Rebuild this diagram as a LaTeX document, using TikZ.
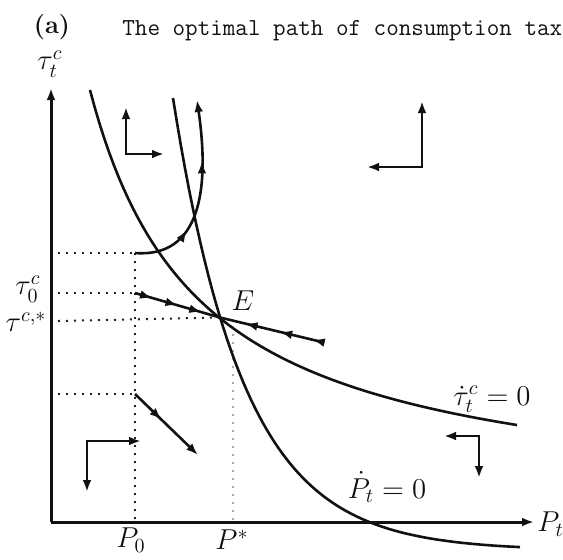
\documentclass[tikz,border=0pt]{standalone}
\usepackage{xcolor}
\definecolor{Ink}{HTML}{111111}
\definecolor{Guide}{HTML}{222222}
\definecolor{GuideLight}{HTML}{A8A8A8}
\usepackage{tikz}
\usetikzlibrary{arrows.meta,decorations.markings}
\newcommand\flowtip{\arrow{Latex[length=6pt,width=4.4pt]}}
\tikzset{
  axis/.style={-{Latex[length=6pt,width=4.4pt]},line width=1.5pt,draw=Ink},
  curve/.style={line width=1.3pt,draw=Ink},
  traj/.style={line width=1.3pt,draw=Ink},
  turn/.style={{Latex[length=6pt,width=4.4pt]}-{Latex[length=6pt,width=4.4pt]},
    line width=1.3pt,draw=Ink},
  guide/.style={line width=1pt,draw=Guide,dash pattern=on 1pt off 3pt},
  guidelight/.style={guide,draw=GuideLight},
  tips/.style={postaction={decorate},decoration={markings,#1}},
  lbl/.style={font=\fontsize{14}{16}\selectfont,text=Ink,inner sep=0pt}
}

\begin{document}
\begin{tikzpicture}[x=0.5pt,y=-0.5pt]
\useasboundingbox (0,0) rectangle (563,559);
% title
\node[font=\fontsize{12.7}{15}\selectfont\bfseries,text=Ink,inner sep=0pt] (panel) at (52,27) {(a)};
\node[anchor=base west,font=\fontsize{12.2}{14}\selectfont\ttfamily,text=Ink,inner sep=0pt]
  (title) at (122,35) {The optimal path of consumption tax};
% axes
\coordinate (O) at (51,522);
\coordinate (ytop) at (51,88);
\coordinate (xend) at (534,522);
\draw[axis] (O)--(ytop);
\draw[axis] (O)--(xend);
\node[lbl] (ylab) at (50,64) {$\tau_t^c$};
\node[lbl,anchor=west] (xlab) at (537,524) {$P_t$};
% steady state and guides
\coordinate (E) at (220,317.5);
\coordinate (p0) at (135,522);
\coordinate (ps) at (233,522);
\coordinate (hi) at (135,253);
\coordinate (t0) at (135,293);
\coordinate (lo) at (135,394);
\draw[guide] (58,253)--(hi);
\draw[guide] (58,293)--(t0);
\draw[guide] (58,321)--(E);
\draw[guide] (58,394)--(lo);
\draw[guide] (hi)--(p0);
\draw[guidelight] (233,326)--(ps);
\node[lbl] (tau0) at (28,289) {$\tau_0^c$};
\node[lbl] (taus) at (26,322) {$\tau^{c,*}$};
\node[lbl] (elab) at (243,301) {$E$};
\node[lbl] (P0) at (131,540) {$P_0$};
\node[lbl] (Ps) at (232,540) {$P^{*}$};
% loci
\draw[curve] plot[domain=90:517,samples=90] (\x,{511.3-463.4/((\x+20)/100)});
\draw[curve] plot[domain=173:520,samples=90] (\x,{550.5-452.5*exp(-0.01408*(\x-173))});
\node[lbl] (taudot) at (492,399) {$\dot\tau_t^c=0$};
\node[lbl] (Pdot) at (387,487) {$\dot P_t=0$};
% saddle path
\draw[traj,tips={mark=at position 0.2 with {\flowtip},mark=at position 0.5 with {\flowtip},
  mark=at position 0.78 with {\flowtip}}] (t0)--(E);
\coordinate (arm) at (322,342);
\draw[traj,tips={mark=at position 0.09 with {\flowtip},mark=at position 0.41 with {\flowtip},
  mark=at position 0.75 with {\flowtip}}] (arm)--(E);
% diverging paths
\coordinate (hiend) at (197,100);
\draw[traj,-{Latex[length=6pt,width=4.4pt]},tips={mark=at position 0.31 with {\flowtip},
  mark=at position 0.68 with {\flowtip}}]
  (hi) .. controls (200,258) and (210,190) .. (hiend);
\coordinate (loend) at (198,455);
\draw[traj,-{Latex[length=6pt,width=4.4pt]},tips={mark=at position 0.42 with {\flowtip}}] (lo)--(loend);
% directions of motion
\coordinate (c1) at (126,154);
\coordinate (c2) at (422,167);
\coordinate (c3) at (87,441);
\coordinate (c4) at (479,436);
\draw[turn] (126,107)--(c1)--(164,154);
\draw[turn] (422,101)--(c2)--(367,167);
\draw[turn] (141,441)--(c3)--(87,492);
\draw[turn] (444,436)--(c4)--(479,478);
\end{tikzpicture}
\end{document}
